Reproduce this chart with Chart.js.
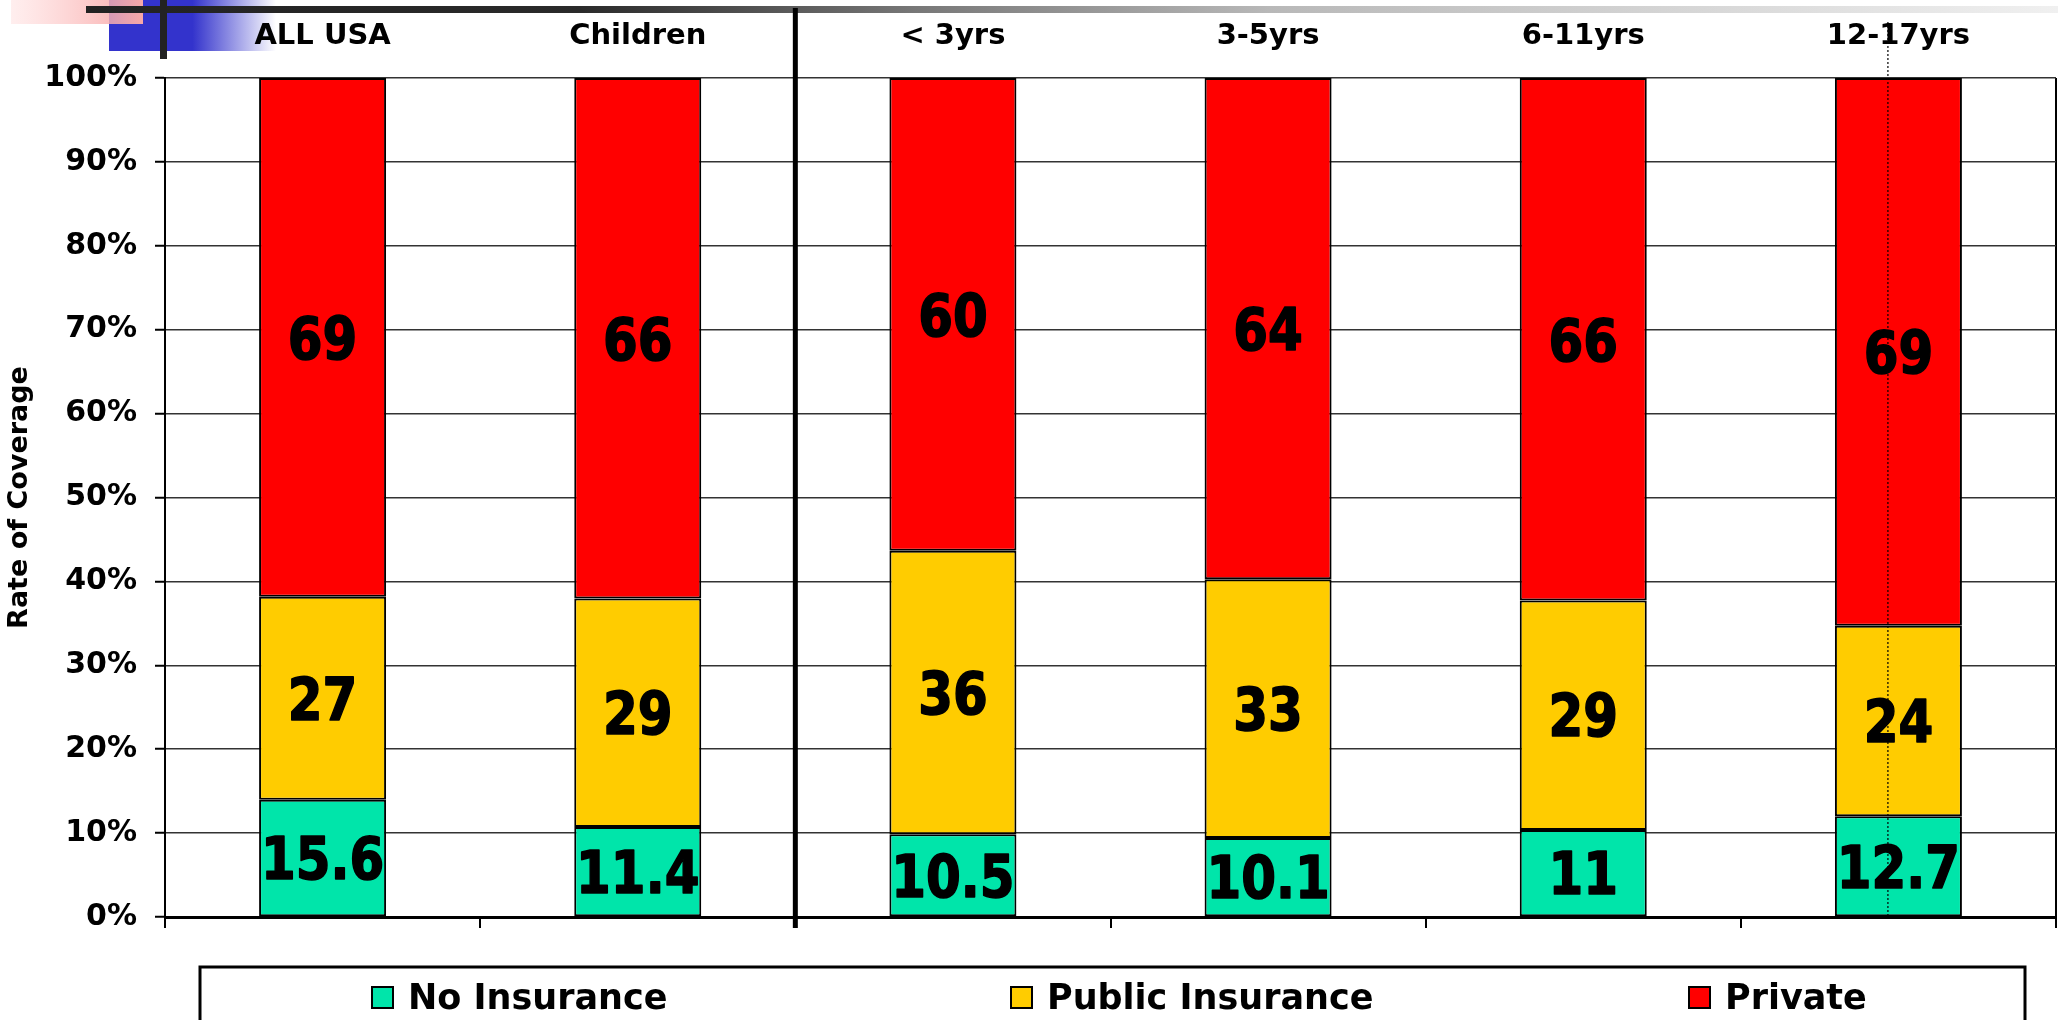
<!DOCTYPE html>
<html><head><meta charset="utf-8">
<script src="https://cdn.jsdelivr.net/npm/chart.js@4/dist/chart.umd.min.js"></script>
<style>html,body{margin:0;padding:0;background:#fff;overflow:hidden}</style>
</head><body>
<canvas id="c" width="2058" height="1020" style="display:block;width:2058px;height:1020px"></canvas>
<script>
const categories = ['ALL USA', 'Children', '< 3yrs', '3-5yrs', '6-11yrs', '12-17yrs'];
const noInsurance = [15.6, 11.4, 10.5, 10.1, 11, 12.7];
const publicInsurance = [27, 29, 36, 33, 29, 24];
const privateInsurance = [69, 66, 60, 64, 66, 69];
const seriesNames = ['No Insurance', 'Public Insurance', 'Private'];
const seriesColors = ['#00E5AA', '#FFCC00', '#FF0000'];
const yAxisTitle = 'Rate of Coverage';

const rawSeries = [noInsurance, publicInsurance, privateInsurance];
const totals = categories.map((_, i) => rawSeries.reduce((s, arr) => s + arr[i], 0));
const FONT = 'DejaVu Sans';

const datasets = rawSeries.map((arr, k) => ({
  label: seriesNames[k],
  data: arr.map((v, i) => v / totals[i] * 100),
  raw: arr,
  backgroundColor: seriesColors[k],
  borderColor: '#000',
  borderWidth: 2,
  borderSkipped: false,
  barPercentage: 0.403,
  categoryPercentage: 1.0
}));

const deco = {
  id: 'deco',
  beforeDraw(chart) {
    const ctx = chart.ctx, ca = chart.chartArea;
    ctx.save();
    ctx.fillStyle = '#fff';
    ctx.fillRect(0, 0, chart.width, chart.height);
    let g = ctx.createLinearGradient(109, 0, 276, 0);
    g.addColorStop(0, '#3333CC'); g.addColorStop(0.5, '#3333CC'); g.addColorStop(1, 'rgba(51,51,204,0)');
    ctx.fillStyle = g; ctx.fillRect(109, 0, 167, 51);
    g = ctx.createLinearGradient(11, 0, 143, 0);
    g.addColorStop(0, 'rgba(255,200,200,0.3)'); g.addColorStop(1, '#F7A8A8');
    ctx.fillStyle = g; ctx.fillRect(11, 0, 132, 24);
    g = ctx.createLinearGradient(86, 0, chart.width, 0);
    g.addColorStop(0, '#222'); g.addColorStop(0.25, '#2a2a2a'); g.addColorStop(0.42, '#777');
    g.addColorStop(0.6, '#b8b8b8'); g.addColorStop(1, '#f0f0f0');
    ctx.fillStyle = g; ctx.fillRect(86, 6, chart.width - 86, 7);
    ctx.fillStyle = '#222';
    ctx.fillRect(ca.left - 5, 0, 7, 59);
    ctx.restore();
  },
  afterDatasetsDraw(chart) {
    const ctx = chart.ctx, ca = chart.chartArea;
    const xs = chart.scales.x;
    ctx.save();
    const fs = 50, sy = 1.17;
    chart.data.datasets.forEach((ds, k) => {
      const meta = chart.getDatasetMeta(k);
      meta.data.forEach((el, i) => {
        const cy = (el.y + el.base) / 2;
        ctx.save();
        ctx.translate(el.x, cy);
        ctx.scale(1, sy);
        ctx.font = 'bold ' + fs + 'px "' + FONT + '"';
        ctx.fillStyle = '#000';
        ctx.strokeStyle = '#000';
        ctx.lineWidth = 1.4;
        ctx.lineJoin = 'round';
        ctx.textAlign = 'center';
        ctx.textBaseline = 'alphabetic';
        ctx.fillText(String(ds.raw[i]), 0, 0.729 * fs / 2);
        ctx.strokeText(String(ds.raw[i]), 0, 0.729 * fs / 2);
        ctx.restore();
      });
    });
    const sepX = (xs.getPixelForValue(1) + xs.getPixelForValue(2)) / 2;
    ctx.fillStyle = '#000';
    ctx.fillRect(sepX - 2.5, 8, 5, ca.bottom + 11 - 8);
    const dx = xs.getPixelForValue(categories.length - 1) - 10.5;
    ctx.strokeStyle = '#000'; ctx.lineWidth = 1.2; ctx.setLineDash([2, 2]);
    ctx.beginPath(); ctx.moveTo(dx, 22); ctx.lineTo(dx, ca.bottom); ctx.stroke();
    ctx.setLineDash([]);
    const boxL = 200, boxR = 2025, boxT = 967;
    ctx.lineWidth = 3; ctx.strokeStyle = '#000';
    ctx.strokeRect(boxL, boxT, boxR - boxL, 80);
    ctx.font = 'bold 35px "' + FONT + '"';
    const sq = 21, gapTxt = 15;
    const itemX = [372, 1011, 1689];
    seriesNames.forEach((n, k) => {
      const x = itemX[k];
      ctx.fillStyle = seriesColors[k];
      ctx.fillRect(x, 987, sq, sq);
      ctx.lineWidth = 2; ctx.strokeStyle = '#000';
      ctx.strokeRect(x, 987, sq, sq);
      ctx.fillStyle = '#000';
      ctx.textAlign = 'left'; ctx.textBaseline = 'alphabetic';
      ctx.fillText(n, x + sq + gapTxt, 1009);
    });
    ctx.restore();
  }
};

new Chart(document.getElementById('c'), {
  type: 'bar',
  data: { labels: categories, datasets },
  options: {
    responsive: false,
    devicePixelRatio: 1,
    animation: false,
    layout: { padding: { top: 16, bottom: 92, left: 0, right: 2 } },
    plugins: { legend: { display: false }, tooltip: { enabled: false } },
    scales: {
      x: {
        type: 'category', position: 'bottom', stacked: true, offset: true,
        grid: {
          offset: true, drawOnChartArea: true,
          color: c => (c.type === 'scale' ? '#000' : 'rgba(0,0,0,0)'),
          lineWidth: 2, tickLength: 11, tickColor: '#000', tickWidth: 2
        },
        ticks: { display: false },
        border: { display: true, color: '#000', width: 3 },
        afterFit: s => { s.height = 11; }
      },
      x2: {
        type: 'category', position: 'top', offset: true, labels: categories,
        grid: { display: false, drawTicks: false },
        border: { display: false },
        ticks: { font: { family: FONT, weight: 'bold', size: 29 }, color: '#000', padding: 24, maxRotation: 0, autoSkip: false },
        afterFit: s => { s.height = 62; }
      },
      y: {
        stacked: true, min: 0, max: 100,
        ticks: { stepSize: 10, callback: v => v + '%', font: { family: FONT, weight: 'bold', size: 30 }, color: '#000', padding: 18 },
        grid: { color: '#333', lineWidth: 1.5, tickLength: 10, tickColor: '#000', tickWidth: 2 },
        border: { color: '#000', width: 2 },
        title: { display: true, text: yAxisTitle, font: { family: FONT, weight: 'bold', size: 27 }, color: '#000', padding: { top: 4, bottom: 4 } },
        afterFit: s => { s.width = 165; }
      }
    }
  },
  plugins: [deco]
});
</script>
</body></html>
